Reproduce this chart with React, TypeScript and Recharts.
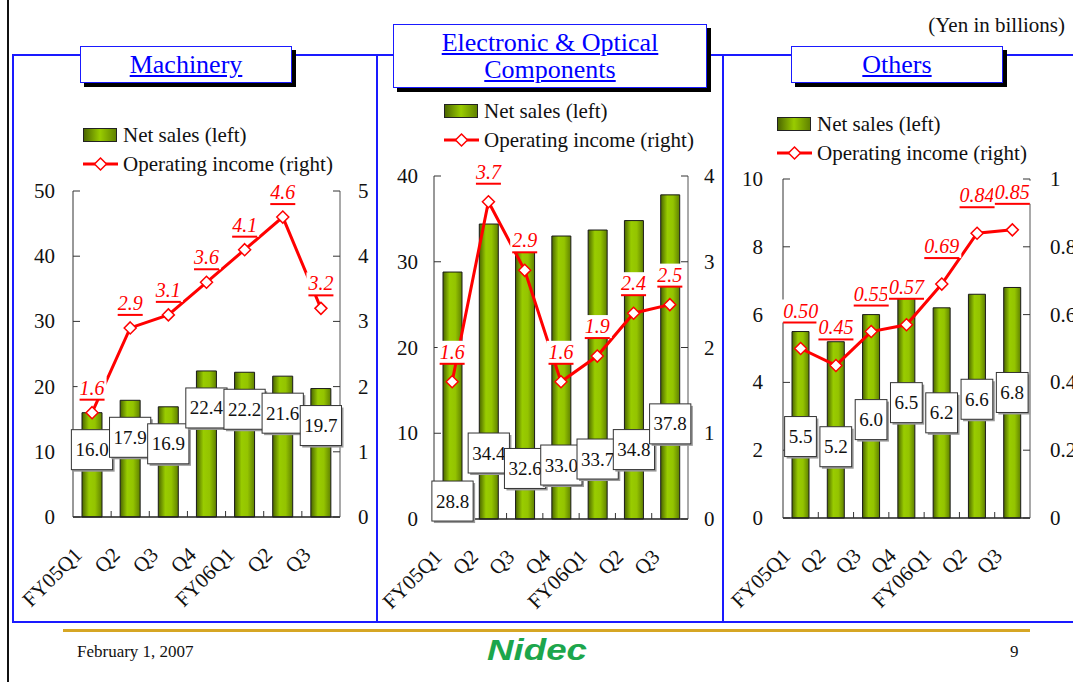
import React from "react";
import { ComposedChart, Bar, Line, XAxis, YAxis, LabelList } from "recharts";

const quarters = ["FY05Q1", "Q2", "Q3", "Q4", "FY06Q1", "Q2", "Q3"];

const machinerySales = [16.0, 17.9, 16.9, 22.4, 22.2, 21.6, 19.7];
const machineryIncome = [1.6, 2.9, 3.1, 3.6, 4.1, 4.6, 3.2];
const electronicSales = [28.8, 34.4, 32.6, 33.0, 33.7, 34.8, 37.8];
const electronicIncome = [1.6, 3.7, 2.9, 1.6, 1.9, 2.4, 2.5];
const othersSales = [5.5, 5.2, 6.0, 6.5, 6.2, 6.6, 6.8];
const othersIncome = [0.5, 0.45, 0.55, 0.57, 0.69, 0.84, 0.85];

const machineryLeftTicks = [0, 10, 20, 30, 40, 50];
const machineryRightTicks = [0, 1, 2, 3, 4, 5];
const electronicLeftTicks = [0, 10, 20, 30, 40];
const electronicRightTicks = [0, 1, 2, 3, 4];
const othersLeftTicks = [0, 2, 4, 6, 8, 10];
const othersRightTicks = [0, 0.2, 0.4, 0.6, 0.8, 1];

const FONT = '"Liberation Serif", "Times New Roman", serif';
const BLUE = "#1a1aff";

// rough width of numeric strings in a Times-like face
function textW(s: string, size: number) {
  let w = 0;
  for (const c of s) w += c === "." ? 0.25 : 0.5;
  return w * size;
}

type PanelProps = {
  id: string;
  left: number;
  top: number;
  width: number;
  height: number;
  plot: { left: number; top: number; right: number; bottom: number };
  sales: number[];
  income: number[];
  leftTicks: number[];
  rightTicks: number[];
  digits: number;
  barSize: number;
  boxDrop: number;
  noteRise: number;
  gap: number;
};

function Panel(p: PanelProps) {
  const pl = p.plot.left - p.left;
  const pr = p.plot.right - p.left;
  const pt = p.plot.top - p.top;
  const pb = p.plot.bottom - p.top;
  const band = (pr - pl) / quarters.length;

  const data = quarters.map((q, i) => ({ i, q, sales: p.sales[i], income: p.income[i] }));

  const leftTick = (props: any) => {
    const y = Number(props.y);
    return (
      <g>
        <line x1={pl} x2={pl + 7} y1={y} y2={y} stroke="#333" />
        <text x={pl - p.gap} y={y} textAnchor="end" dominantBaseline="central" fontSize={21} fontFamily={FONT} fill="#111">
          {props.payload.value}
        </text>
      </g>
    );
  };

  const rightTick = (props: any) => {
    const y = Number(props.y);
    return (
      <g>
        <line x1={pr - 7} x2={pr} y1={y} y2={y} stroke="#333" />
        <text x={pr + p.gap} y={y} textAnchor="start" dominantBaseline="central" fontSize={21} fontFamily={FONT} fill="#111">
          {props.payload.value}
        </text>
      </g>
    );
  };

  const xTick = (props: any) => {
    const x = Number(props.x);
    const idx = Number(props.payload.value);
    return (
      <g>
        {idx < quarters.length - 1 && (
          <line x1={x + band / 2} x2={x + band / 2} y1={pb} y2={pb - 6} stroke="#333" />
        )}
        <text
          transform={`translate(${x - 9},${pb + 39}) rotate(-45)`}
          textAnchor="end"
          fontSize={21}
          fontFamily={FONT}
          fill="#111"
        >
          {quarters[idx]}
        </text>
      </g>
    );
  };

  const box = (props: any) => {
    const cx = Number(props.x) + Number(props.width) / 2;
    const cy = Number(props.y) + p.boxDrop;
    const txt = Number(props.value).toFixed(1);
    const w = textW(txt, 19) + 8;
    const h = 40;
    return (
      <g>
        <rect x={cx - w / 2 + 2} y={cy - h / 2 + 2} width={w} height={h} fill="#9a9a9a" />
        <rect x={cx - w / 2} y={cy - h / 2} width={w} height={h} fill="#fff" stroke="#333" strokeWidth={1} />
        <text x={cx} y={cy} textAnchor="middle" dominantBaseline="central" fontSize={19} fontFamily={FONT} fill="#111">
          {txt}
        </text>
      </g>
    );
  };

  const note = (props: any) => {
    const cx = Number(props.x);
    const cy = Number(props.y) - p.noteRise;
    const txt = Number(props.value).toFixed(p.digits);
    const w = textW(txt, 20) + 4;
    return (
      <g>
        <rect x={cx - w / 2} y={cy - 11} width={w} height={23} fill="#fff" />
        <text
          x={cx}
          y={cy}
          textAnchor="middle"
          dominantBaseline="central"
          fontSize={20}
          fontStyle="italic"
          fontFamily={FONT}
          fill="#ff0000"
          style={{ textDecoration: "underline" }}
        >
          {txt}
        </text>
      </g>
    );
  };

  const diamond = (props: any) => {
    const { cx, cy, index } = props;
    const r = 6;
    return (
      <path
        key={`d-${index}`}
        d={`M${cx},${cy - r} L${cx + r},${cy} L${cx},${cy + r} L${cx - r},${cy} Z`}
        fill="#fff"
        stroke="#ff0000"
        strokeWidth={1.5}
      />
    );
  };

  return (
    <div style={{ position: "absolute", left: p.left, top: p.top }}>
      <ComposedChart
        width={p.width}
        height={p.height}
        data={data}
        margin={{ top: pt, right: 0, bottom: 0, left: 0 }}
      >
        <defs>
          <linearGradient id={`g-${p.id}`} x1="0" y1="0" x2="1" y2="0">
            <stop offset="0%" stopColor="#4a6400" />
            <stop offset="35%" stopColor="#99cc00" />
            <stop offset="65%" stopColor="#94c400" />
            <stop offset="100%" stopColor="#5f8000" />
          </linearGradient>
        </defs>
        <XAxis
          dataKey="i"
          type="category"
          interval={0}
          height={p.height - pb}
          tick={xTick}
          tickLine={false}
          axisLine={{ stroke: "#222", strokeWidth: 1.5 }}
        />
        <YAxis
          yAxisId="l"
          domain={[0, p.leftTicks[p.leftTicks.length - 1]]}
          ticks={p.leftTicks}
          width={pl}
          tick={leftTick}
          tickLine={false}
          axisLine={{ stroke: "#333" }}
        />
        <YAxis
          yAxisId="r"
          orientation="right"
          domain={[0, p.rightTicks[p.rightTicks.length - 1]]}
          ticks={p.rightTicks}
          width={p.width - pr}
          tick={rightTick}
          tickLine={false}
          axisLine={{ stroke: "#555" }}
        />
        <Bar
          yAxisId="l"
          dataKey="sales"
          barSize={p.barSize}
          fill={`url(#g-${p.id})`}
          stroke="#1a1a1a"
          strokeWidth={1}
          isAnimationActive={false}
        >
          <LabelList dataKey="sales" content={box} />
        </Bar>
        <Line
          yAxisId="r"
          dataKey="income"
          stroke="#ff0000"
          strokeWidth={3}
          dot={diamond}
          activeDot={false}
          isAnimationActive={false}
        >
          <LabelList dataKey="income" content={note} />
        </Line>
      </ComposedChart>
    </div>
  );
}

function Legend({ x, y, id }: { x: number; y: number; id: string }) {
  const row: React.CSSProperties = {
    position: "absolute",
    left: x,
    height: 26,
    display: "flex",
    alignItems: "center",
    fontSize: 21,
    fontFamily: FONT,
    color: "#111",
    whiteSpace: "nowrap",
  };
  return (
    <>
      <div style={{ ...row, top: y - 13 }}>
        <svg width={36} height={16} style={{ marginRight: 4 }}>
          <defs>
            <linearGradient id={`lg-${id}`} x1="0" y1="0" x2="1" y2="0">
              <stop offset="0%" stopColor="#4a6400" />
              <stop offset="50%" stopColor="#99cc00" />
              <stop offset="100%" stopColor="#5f8000" />
            </linearGradient>
          </defs>
          <rect x={0.5} y={1.5} width={33} height={13} fill={`url(#lg-${id})`} stroke="#222" />
        </svg>
        Net sales (left)
      </div>
      <div style={{ ...row, top: y + 16 }}>
        <svg width={36} height={16} style={{ marginRight: 4 }}>
          <line x1={0} x2={35} y1={8} y2={8} stroke="#ff0000" strokeWidth={3} />
          <path d="M17.5,2 L23.5,8 L17.5,14 L11.5,8 Z" fill="#fff" stroke="#ff0000" strokeWidth={1.5} />
        </svg>
        Operating income (right)
      </div>
    </>
  );
}

function Title({ x, y, w, h, lines }: { x: number; y: number; w: number; h: number; lines: string[] }) {
  return (
    <div
      style={{
        position: "absolute",
        left: x,
        top: y,
        width: w,
        height: h,
        boxSizing: "border-box",
        border: `1.5px solid ${BLUE}`,
        background: "#fff",
        boxShadow: "4px 4px 0 #000",
        color: "#0000ff",
        fontFamily: FONT,
        fontSize: 26,
        lineHeight: "27px",
        textAlign: "center",
        display: "flex",
        flexDirection: "column",
        justifyContent: "center",
      }}
    >
      {lines.map((l) => (
        <div key={l} style={{ textDecoration: "underline" }}>
          {l}
        </div>
      ))}
    </div>
  );
}

export default function App() {
  return (
    <div
      style={{
        position: "absolute",
        left: 0,
        top: 0,
        width: 1073,
        height: 682,
        overflow: "hidden",
        background: "#fff",
        fontFamily: FONT,
      }}
    >
      {/* slide frame */}
      <div style={{ position: "absolute", left: 7, top: 0, width: 2, height: 682, background: "#111" }} />
      <div style={{ position: "absolute", left: 12, top: 54, width: 1100, height: 1.5, background: BLUE }} />
      <div style={{ position: "absolute", left: 12, top: 621, width: 1100, height: 1.5, background: BLUE }} />
      <div style={{ position: "absolute", left: 12, top: 54, width: 1.5, height: 568, background: BLUE }} />
      <div style={{ position: "absolute", left: 376, top: 54, width: 1.5, height: 568, background: BLUE }} />
      <div style={{ position: "absolute", left: 722, top: 54, width: 1.5, height: 568, background: BLUE }} />

      <div style={{ position: "absolute", right: 8, top: 13, fontSize: 21, color: "#111" }}>(Yen in billions)</div>

      <Panel
        id="m"
        left={14}
        top={170}
        width={362}
        height={450}
        plot={{ left: 73, top: 191, right: 340, bottom: 517 }}
        sales={machinerySales}
        income={machineryIncome}
        leftTicks={machineryLeftTicks}
        rightTicks={machineryRightTicks}
        digits={1}
        barSize={20}
        boxDrop={37}
        noteRise={25}
        gap={18}
      />
      <Panel
        id="e"
        left={378}
        top={150}
        width={344}
        height={470}
        plot={{ left: 434, top: 176, right: 688, bottom: 519 }}
        sales={electronicSales}
        income={electronicIncome}
        leftTicks={electronicLeftTicks}
        rightTicks={electronicRightTicks}
        digits={1}
        barSize={19}
        boxDrop={229}
        noteRise={30}
        gap={16}
      />
      <Panel
        id="o"
        left={724}
        top={150}
        width={360}
        height={470}
        plot={{ left: 783, top: 179, right: 1030, bottom: 518 }}
        sales={othersSales}
        income={othersIncome}
        leftTicks={othersLeftTicks}
        rightTicks={othersRightTicks}
        digits={2}
        barSize={17}
        boxDrop={105}
        noteRise={38}
        gap={20}
      />

      <Title x={80} y={46} w={212} h={37} lines={["Machinery"]} />
      <Title x={393} y={24} w={314} h={64} lines={["Electronic & Optical", "Components"]} />
      <Title x={791} y={46} w={212} h={37} lines={["Others"]} />

      <Legend id="m" x={83} y={135} />
      <Legend id="e" x={444} y={111} />
      <Legend id="o" x={777} y={124} />

      {/* footer */}
      <div style={{ position: "absolute", left: 63, top: 629, width: 967, height: 3, background: "#d6a624" }} />
      <div style={{ position: "absolute", left: 77, top: 642, fontSize: 17, color: "#111" }}>February 1, 2007</div>
      <div style={{ position: "absolute", left: 1010, top: 642, fontSize: 17, color: "#111" }}>9</div>
      <svg style={{ position: "absolute", left: 485, top: 636 }} width={105} height={28}>
        <text
          x={2}
          y={24}
          textLength={100}
          lengthAdjust="spacingAndGlyphs"
          fontFamily='"Liberation Sans", Arial, sans-serif'
          fontWeight="bold"
          fontStyle="italic"
          fontSize={30}
          fill="#1ca64c"
        >
          Nidec
        </text>
      </svg>
    </div>
  );
}
